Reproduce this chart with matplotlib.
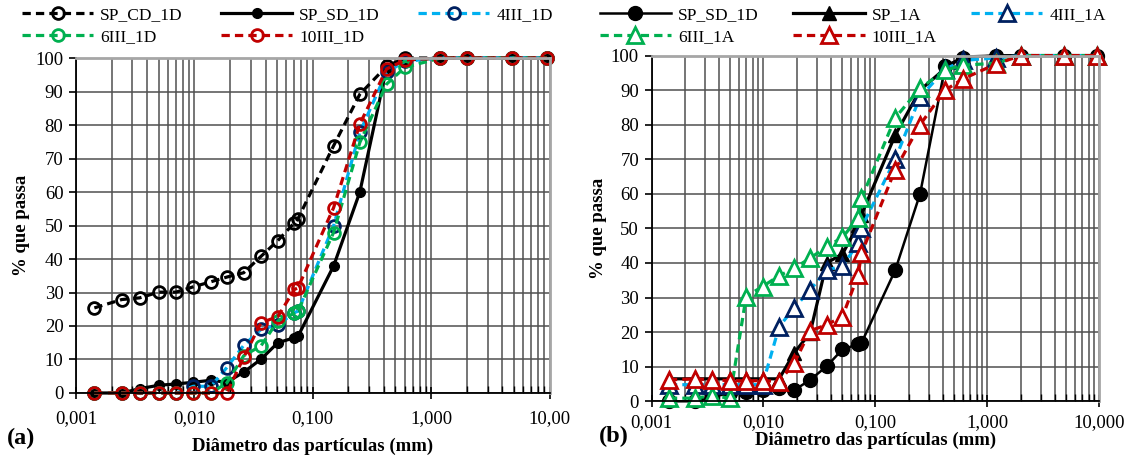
import matplotlib
matplotlib.use("Agg")
import matplotlib.pyplot as plt
from matplotlib.ticker import FixedLocator, FixedFormatter, LogLocator, NullFormatter, MultipleLocator

plt.rcParams["font.family"] = ["Liberation Serif", "DejaVu Serif"]

# particle diameters (mm): hydrometer readings then sieves
diam_mm = [0.00143, 0.00244, 0.00345, 0.0050, 0.0070, 0.0098, 0.0138, 0.0188,
           0.0261, 0.0366, 0.0507, 0.070, 0.075, 0.15, 0.25, 0.42, 0.6, 1.2, 2.0, 4.8, 9.5]

# panel (a)
sp_cd_1d = [25.4, 27.9, 28.4, 30.1, 30.1, 31.7, 33.2, 34.6, 35.9, 40.8, 45.5, 50.8, 52.0,
            73.8, 89.2, 97.5, 100, 100, 100, 100, 100]
sp_sd_1d = [0, 0, 1.3, 2.3, 2.7, 3.2, 3.8, 3.2, 6.2, 10.1, 15.0, 16.5, 16.9,
            37.9, 60.0, 97.0, 99.4, 100, 100, 100, 100]
iii4_1d = [0, 0, 0, 0, 0, 2.0, 2.0, 7.6, 14.2, 19.0, 20.3, 24.0, 24.4,
           49.9, 77.8, 95.7, 99.0, 100, 100, 100, 100]
iii6_1d = [0, 0, 0, 0, 0, 0, 0, 3.0, 11.1, 14.1, 21.5, 23.8, 24.4,
           47.9, 74.8, 92.2, 97.2, 100, 100, 100, 100]
iii10_1d = [0, 0, 0, 0, 0, 0, 0, 0, 10.6, 21.0, 22.8, 30.9, 31.4,
            55.3, 80.3, 96.7, 99.4, 100, 100, 100, 100]

# panel (b)
sp_1a = [6.5, 6.5, 6.5, 6.5, 6.5, 6.5, 6.5, 14.0, 19.8, 40.0, 42.6, 51.0, 54.0,
         77.0, 90.0, 96.3, 99.6, 99.9, 100, 100, 100]
iii4_1a = [4.8, 4.8, 4.8, 4.8, 4.8, 4.8, 21.6, 27.0, 32.2, 38.0, 39.0, 45.8, 50.2,
           70.0, 88.0, 96.0, 98.6, 99.3, 100, 100, 100]
iii6_1a = [0.9, 0.9, 1.6, 0.9, 30.3, 33.2, 36.3, 38.5, 41.4, 44.7, 47.4, 53.0, 58.7,
           82.0, 90.5, 95.8, 97.2, 97.8, 100, 100, 100]
iii10_1a = [6.2, 6.5, 6.2, 6.0, 5.9, 6.0, 5.7, 11.0, 20.4, 22.1, 24.5, 36.5, 42.8,
            67.0, 80.0, 90.0, 93.2, 97.6, 100, 100, 100]

tick_pos = [0.001, 0.01, 0.1, 1, 10]
ticks_a = ["0,001", "0,010", "0,100", "1,000", "10,00"]
ticks_b = ["0,001", "0,010", "0,100", "1,000", "10,000"]

BLACK = "#000000"
LBLUE = "#00B0F0"
NAVY = "#002060"
GREEN = "#00B050"
RED = "#C00000"
DASH = (0, (2.6, 1.6))
FS = 13.5
LEG_FS = 12.5

fig = plt.figure(figsize=(11.37, 4.63), dpi=100)
ax_a = fig.add_axes([0.0668, 0.1512, 0.4165, 0.7235])
ax_b = fig.add_axes([0.5730, 0.1333, 0.3940, 0.7467])


def style_axes(ax, labels, tick_pad, xlabel_pad, ylabel_pad):
    ax.set_xscale("log")
    ax.set_xlim(0.001, 10)
    ax.set_ylim(0, 100)
    ax.xaxis.set_major_locator(FixedLocator(tick_pos))
    ax.xaxis.set_major_formatter(FixedFormatter(labels))
    ax.xaxis.set_minor_locator(LogLocator(base=10, subs=range(2, 10)))
    ax.xaxis.set_minor_formatter(NullFormatter())
    ax.yaxis.set_major_locator(MultipleLocator(10))
    ax.grid(which="major", axis="both", color="#505050", lw=1.1)
    ax.grid(which="minor", axis="x", color="#505050", lw=1.1)
    ax.set_axisbelow(True)
    ax.tick_params(axis="x", which="major", direction="inout", length=9, width=1.2,
                   labelsize=FS, pad=tick_pad)
    ax.tick_params(axis="x", which="minor", direction="in", length=5, width=1.0)
    ax.tick_params(axis="y", which="major", direction="out", length=5, width=1.2,
                   labelsize=FS, pad=4)
    for side in ("top", "right"):
        ax.spines[side].set_color("#a6a6a6")
        ax.spines[side].set_linewidth(2)
    for side in ("left", "bottom"):
        ax.spines[side].set_color("black")
        ax.spines[side].set_linewidth(1.3)
    ax.set_xlabel("Diâmetro das partículas (mm)", fontsize=FS, fontweight="bold",
                  labelpad=xlabel_pad)
    ax.set_ylabel("% que passa", fontsize=FS, fontweight="bold", labelpad=ylabel_pad)


style_axes(ax_a, ticks_a, tick_pad=8, xlabel_pad=7.5, ylabel_pad=4)
style_axes(ax_b, ticks_b, tick_pad=5, xlabel_pad=0.5, ylabel_pad=2.5)

leg_kw = dict(loc="upper left", ncol=3, frameon=False, fontsize=LEG_FS, handlelength=4.1,
              handletextpad=0.4, labelspacing=0.32, borderaxespad=0, borderpad=0.1)

# ---- panel (a)
circ = dict(marker="o", ms=8.5, mew=2.0, mfc="none", lw=2.3, clip_on=False)
h1, = ax_a.plot(diam_mm, sp_cd_1d, color=BLACK, mec=BLACK, ls=DASH, label="SP_CD_1D", **circ)
h2, = ax_a.plot(diam_mm, sp_sd_1d, color=BLACK, marker="o", ms=7, mfc=BLACK, mec=BLACK,
                lw=2.3, ls="-", label="SP_SD_1D", clip_on=False)
h3, = ax_a.plot(diam_mm, iii4_1d, color=LBLUE, mec=NAVY, ls=DASH, label="4III_1D", **circ)
h4, = ax_a.plot(diam_mm, iii6_1d, color=GREEN, mec=GREEN, ls=DASH, label="6III_1D", **circ)
h5, = ax_a.plot(diam_mm, iii10_1d, color=RED, mec=RED, ls=DASH, label="10III_1D", **circ)

fig.legend(handles=[h1, h4, h2, h5, h3], bbox_to_anchor=(0.018, 0.988),
           columnspacing=2.2, **leg_kw)

# ---- panel (b)
tri = dict(marker="^", ms=12, mew=2.0, mfc="white", lw=2.3, clip_on=False)
g1, = ax_b.plot(diam_mm, sp_sd_1d, color=BLACK, marker="o", ms=10, mfc=BLACK, mec=BLACK,
                lw=1.8, ls="-", label="SP_SD_1D", clip_on=False)
g2, = ax_b.plot(diam_mm, sp_1a, color=BLACK, marker="^", ms=9.5, mfc=BLACK, mec=BLACK,
                lw=2.3, ls="-", label="SP_1A", clip_on=False)
g3, = ax_b.plot(diam_mm, iii4_1a, color=LBLUE, mec=NAVY, ls=DASH, label="4III_1A", **tri)
g4, = ax_b.plot(diam_mm, iii6_1a, color=GREEN, mec=GREEN, ls=DASH, label="6III_1A", **tri)
g5, = ax_b.plot(diam_mm, iii10_1a, color=RED, mec=RED, ls=DASH, label="10III_1A", **tri)

fig.legend(handles=[g1, g4, g2, g5, g3], bbox_to_anchor=(0.526, 0.988),
           columnspacing=2.0, **leg_kw)

fig.text(0.006, 0.04, "(a)", fontsize=17.5, fontweight="bold")
fig.text(0.527, 0.045, "(b)", fontsize=17.5, fontweight="bold")

fig.savefig("out.png", dpi=100)
